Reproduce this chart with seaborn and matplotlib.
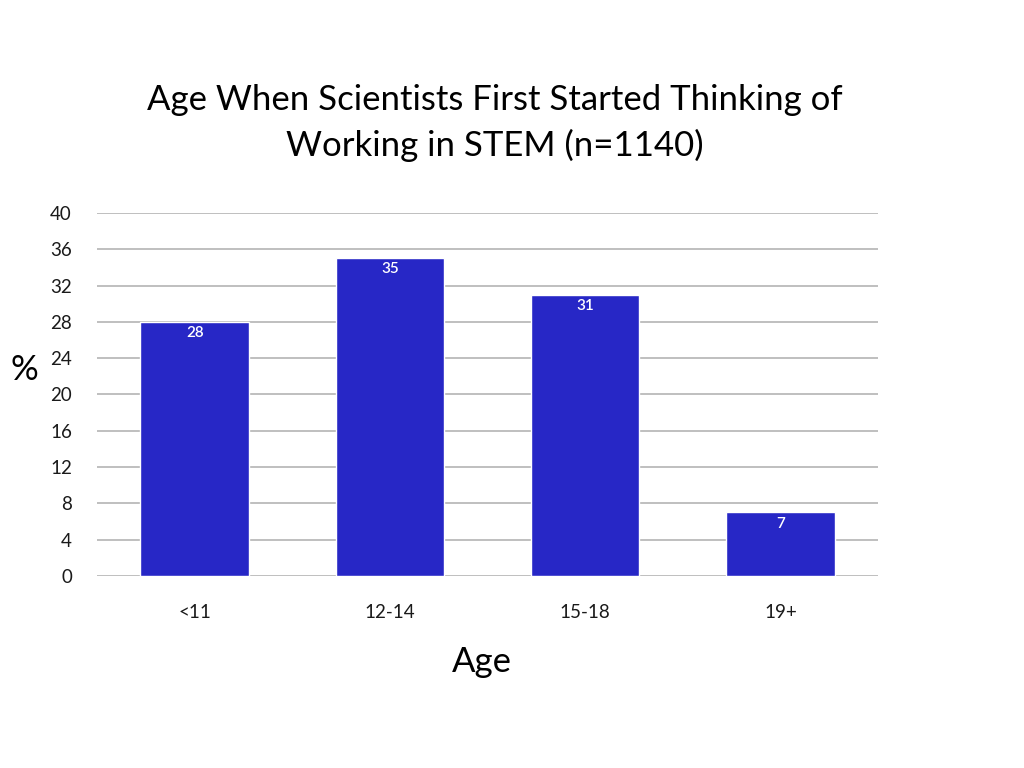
import matplotlib
matplotlib.use("Agg")
import matplotlib.pyplot as plt
import seaborn as sns
import pandas as pd

# data
age_groups = ["<11", "12-14", "15-18", "19+"]
percent = [28, 35, 31, 7]
y_ticks = list(range(0, 41, 4))

df = pd.DataFrame({"age": age_groups, "pct": percent})

sns.set_theme(style="white")
plt.rcParams["font.family"] = ["Lato", "DejaVu Sans"]
plt.rcParams["text.color"] = "black"

fig = plt.figure(figsize=(10.24, 7.68), dpi=100)
ax = fig.add_axes([0.0947, 0.25, 0.763, 0.4727])

sns.barplot(data=df, x="age", y="pct", color="#2727C6", saturation=1,
            width=0.555, ax=ax, zorder=3)

ax.set_ylim(0, 40)
ax.set_xlim(-0.5, 3.5)
ax.set_yticks(y_ticks)
ax.yaxis.grid(True, color="#b4b4b4", linewidth=1.2, zorder=0)
ax.set_axisbelow(True)
for s in ax.spines.values():
    s.set_visible(False)
ax.tick_params(axis="both", length=0, labelsize=13.5, colors="#1a1a1a")
ax.tick_params(axis="y", pad=18)
ax.tick_params(axis="x", pad=20)
ax.set_xlabel("")
ax.set_ylabel("")

# value labels inside the top of each bar
for i, v in enumerate(percent):
    ax.text(i, v - 0.45, str(v), ha="center", va="top", color="white",
            fontsize=11, fontweight="semibold", zorder=4)

fig.text(0.483, 0.84, "Age When Scientists First Started Thinking of\nWorking in STEM (n=1140)",
         ha="center", va="center", fontsize=25, linespacing=1.45)
fig.text(0.024, 0.518, "%", ha="center", va="center", fontsize=25)
fig.text(0.471, 0.138, "Age", ha="center", va="center", fontsize=25)

fig.savefig("out.png", dpi=100)
